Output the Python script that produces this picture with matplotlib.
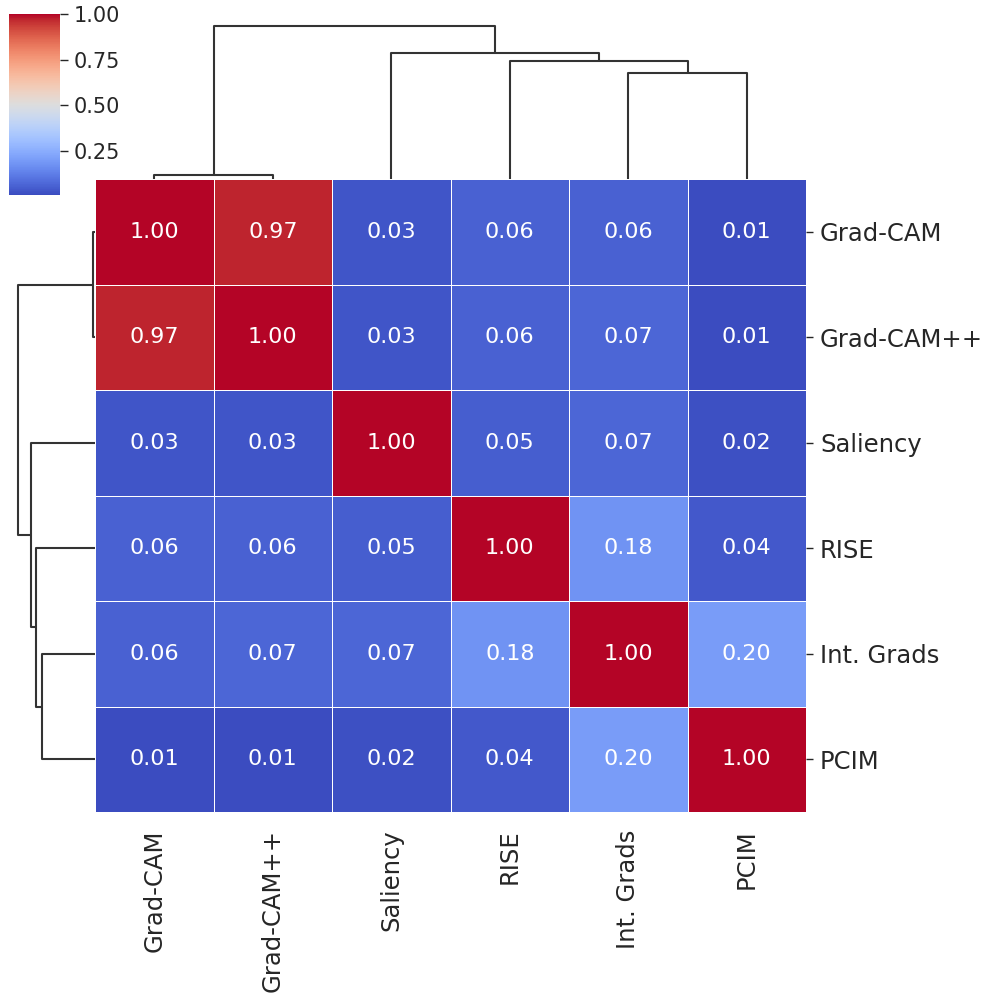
import matplotlib
matplotlib.use("Agg")
import matplotlib.pyplot as plt
from matplotlib.collections import LineCollection
import numpy as np
import seaborn as sns

methods = ["Grad-CAM", "Grad-CAM++", "Saliency", "RISE", "Int. Grads", "PCIM"]
r_gradcam = [1.00, 0.97, 0.03, 0.06, 0.06, 0.01]
r_gradcampp = [0.97, 1.00, 0.03, 0.06, 0.07, 0.01]
r_saliency = [0.03, 0.03, 1.00, 0.05, 0.07, 0.02]
r_rise = [0.06, 0.06, 0.05, 1.00, 0.18, 0.04]
r_intgrads = [0.06, 0.07, 0.07, 0.18, 1.00, 0.20]
r_pcim = [0.01, 0.01, 0.02, 0.04, 0.20, 1.00]

corr = np.array([r_gradcam, r_gradcampp, r_saliency, r_rise, r_intgrads, r_pcim])

TXT = "#262626"
TREE = "#333333"


def average_linkage(x):
    """Plain UPGMA on euclidean distances between rows (same as seaborn's default)."""
    n = len(x)
    d = np.sqrt(((x[:, None, :] - x[None, :, :]) ** 2).sum(-1))
    clusters = {i: [i] for i in range(n)}
    merges = []
    nxt = n
    while len(clusters) > 1:
        keys = sorted(clusters)
        best = None
        for i, a in enumerate(keys):
            for b in keys[i + 1:]:
                dist = d[np.ix_(clusters[a], clusters[b])].mean()
                if best is None or dist < best[0]:
                    best = (dist, a, b)
        dist, a, b = best
        merges.append((a, b, dist))
        clusters[nxt] = clusters.pop(a) + clusters.pop(b)
        nxt += 1
    return merges


def tree_segments(merges, n):
    """Leaf order and dendrogram segments, leaves at 5, 15, 25, ..."""
    children = {n + k: (a, b, h) for k, (a, b, h) in enumerate(merges)}

    def leaves(c):
        if c < n:
            return [c]
        a, b, _ = children[c]
        return leaves(a) + leaves(b)

    root = n + len(merges) - 1
    order = leaves(root)
    pos = {leaf: 10 * i + 5 for i, leaf in enumerate(order)}
    height = {leaf: 0.0 for leaf in range(n)}
    segs = []
    for c in sorted(children):
        a, b, h = children[c]
        xa, xb = pos[a], pos[b]
        segs.append([(xa, height[a]), (xa, h), (xb, h), (xb, height[b])])
        pos[c] = (xa + xb) / 2
        height[c] = h
    return order, segs, max(height.values())


merges = average_linkage(corr)
order, segs, top = tree_segments(merges, len(methods))
data = corr[np.ix_(order, order)]
labels = [methods[i] for i in order]
n = len(labels)

W, H = 988, 994
fig = plt.figure(figsize=(W / 100, H / 100), dpi=100)

ax_heat = fig.add_axes([95 / W, 1 - 812 / H, 711 / W, 633 / H])
ax_col = fig.add_axes([95 / W, 1 - 179 / H, 711 / W, 161 / H])
ax_row = fig.add_axes([14 / W, 1 - 812 / H, 81 / W, 633 / H])
ax_cbar = fig.add_axes([9 / W, 1 - 195 / H, 51 / W, 181 / H])

sns.heatmap(
    data, ax=ax_heat, cbar_ax=ax_cbar, cmap="coolwarm",
    annot=True, fmt=".2f", annot_kws={"color": "white", "fontsize": 16},
    linewidths=0.7, linecolor="white",
    xticklabels=labels, yticklabels=labels,
)

ax_heat.yaxis.tick_right()
ax_heat.tick_params(axis="y", length=5, width=1, color=TXT, labelsize=17.5,
                    labelcolor=TXT, pad=5, rotation=0)
ax_heat.tick_params(axis="x", length=0, labelsize=17.5, labelcolor=TXT, pad=12.5, rotation=90)

ax_cbar.set_yticks([0.25, 0.50, 0.75, 1.00])
ax_cbar.tick_params(length=6, width=1, color=TXT, labelsize=15, labelcolor=TXT, pad=4)
ax_cbar.yaxis.set_major_formatter(matplotlib.ticker.FormatStrFormatter("%.2f"))
for sp in ax_cbar.spines.values():
    sp.set_visible(False)

# column dendrogram
ax_col.add_collection(LineCollection(segs, colors=TREE, linewidths=1.5))
ax_col.set_xlim(0, 10 * n)
ax_col.set_ylim(0, top * 1.05)

# row dendrogram (rotated)
row_segs = [[(y, x) for x, y in s] for s in segs]
ax_row.add_collection(LineCollection(row_segs, colors=TREE, linewidths=1.5))
ax_row.set_ylim(0, 10 * n)
ax_row.set_xlim(0, top * 1.05)
ax_row.invert_xaxis()
ax_row.invert_yaxis()

for ax in (ax_col, ax_row):
    ax.set_xticks([])
    ax.set_yticks([])
    for sp in ax.spines.values():
        sp.set_visible(False)

fig.savefig("out.png", dpi=100)
